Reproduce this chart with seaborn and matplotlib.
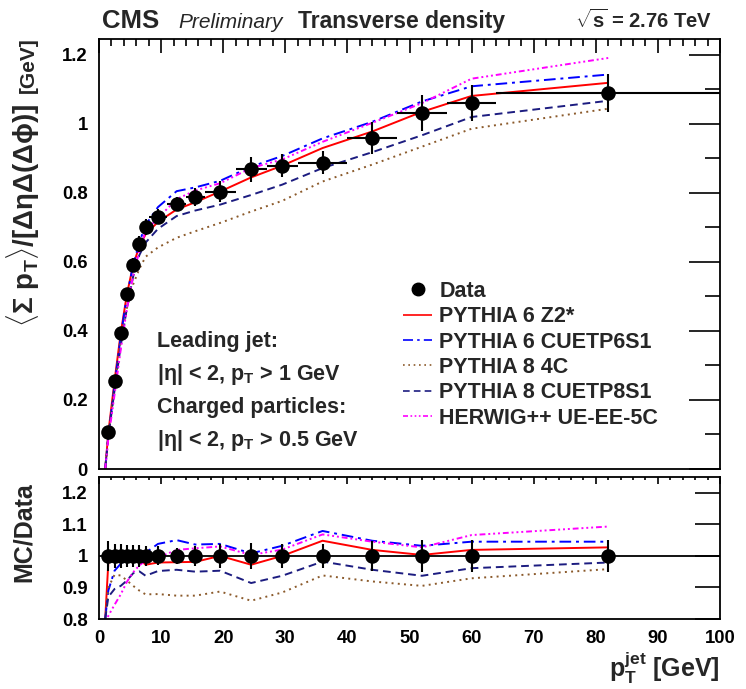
"""Transverse density vs leading jet pT at sqrt(s) = 2.76 TeV, data vs MC tunes.
"""

import numpy as np
import seaborn as sns
import matplotlib.pyplot as plt
from matplotlib.lines import Line2D
from matplotlib.ticker import MultipleLocator

# Data points (bin centers, bin edges, values, errors)
pt_jet = [1.5, 2.5, 3.5, 4.5, 5.5, 6.5, 7.5, 9.5, 12.5, 15.5, 19.5, 24.5, 29.5, 36, 44, 52, 60, 82]
pt_lo = [1, 2, 3, 4, 5, 6, 7, 8, 11, 14, 17, 22, 27, 32, 40, 48, 56, 64]
pt_hi = [2, 3, 4, 5, 6, 7, 8, 11, 14, 17, 22, 27, 32, 40, 48, 56, 64, 100]
density = [0.107, 0.255, 0.394, 0.507, 0.591, 0.652, 0.700, 0.731, 0.767, 0.788, 0.804,
           0.869, 0.879, 0.888, 0.960, 1.032, 1.061, 1.090]
density_err = [0.005, 0.010, 0.015, 0.018, 0.020, 0.022, 0.023, 0.022, 0.020, 0.025, 0.031,
               0.036, 0.034, 0.034, 0.046, 0.052, 0.053, 0.055]

# MC predictions (main panel)
mc_pt = [1.0, 1.5, 2.5, 3.5, 4.5, 5.5, 6.5, 7.5, 9.5, 12.5, 15.5, 19.5, 24.5, 29.5, 36, 44, 52, 60, 82]
py6_z2star = [0.0, 0.105, 0.255, 0.394, 0.507, 0.591, 0.645, 0.680, 0.716, 0.752, 0.773, 0.804,
              0.845, 0.879, 0.930, 0.978, 1.035, 1.081, 1.119]
py6_cuetp6s1 = [0.0, 0.095, 0.243, 0.384, 0.502, 0.591, 0.657, 0.707, 0.759, 0.805, 0.816, 0.835,
                0.876, 0.907, 0.958, 1.006, 1.065, 1.109, 1.143]
py8_4c = [0.0, 0.096, 0.240, 0.370, 0.467, 0.535, 0.580, 0.615, 0.642, 0.670, 0.689, 0.713,
          0.746, 0.777, 0.833, 0.882, 0.934, 0.986, 1.044]
py8_cuetp8s1 = [0.0, 0.093, 0.228, 0.357, 0.467, 0.558, 0.620, 0.656, 0.696, 0.733, 0.749, 0.766,
                0.794, 0.824, 0.872, 0.918, 0.967, 1.020, 1.067]
herwig_ueee5c = [0.0, 0.087, 0.215, 0.346, 0.465, 0.560, 0.632, 0.690, 0.727, 0.782, 0.807, 0.828,
                 0.872, 0.897, 0.948, 1.003, 1.060, 1.131, 1.191]

# MC / Data (ratio panel)
r_py6_z2star = [0.80, 0.978, 1.0, 1.0, 1.0, 1.0, 0.99, 0.972, 0.979, 0.980, 0.981, 1.0,
                0.972, 1.0, 1.048, 1.019, 1.003, 1.019, 1.027]
r_py6_cuetp6s1 = [0.80, 0.89, 0.953, 0.975, 0.99, 1.0, 1.008, 1.01, 1.038, 1.05, 1.036, 1.038,
                  1.008, 1.032, 1.079, 1.048, 1.032, 1.045, 1.045]
r_py8_4c = [0.80, 0.90, 0.94, 0.938, 0.922, 0.905, 0.89, 0.878, 0.879, 0.874, 0.874, 0.887,
            0.858, 0.884, 0.938, 0.919, 0.905, 0.929, 0.958]
r_py8_cuetp8s1 = [0.80, 0.87, 0.895, 0.905, 0.922, 0.945, 0.951, 0.937, 0.952, 0.956, 0.95, 0.953,
                  0.914, 0.937, 0.982, 0.956, 0.937, 0.961, 0.979]
r_herwig_ueee5c = [0.78, 0.81, 0.845, 0.878, 0.918, 0.948, 0.97, 0.985, 0.995, 1.019, 1.024, 1.03,
                   1.003, 1.02, 1.068, 1.045, 1.027, 1.066, 1.093]

labels = ["PYTHIA 6 Z2*", "PYTHIA 6 CUETP6S1", "PYTHIA 8 4C", "PYTHIA 8 CUETP8S1", "HERWIG++ UE-EE-5C"]
colors = ["#ff0000", "#0000ff", "#8b5a2b", "#1c1c80", "#ff00ff"]
styles = [(0, ()), (0, (6, 2.5, 1.5, 2.5)), (0, (1, 2.2)), (0, (4, 2.5)), (0, (3, 1.5, 1, 1.5, 1, 1.5, 1, 1.5))]

W, H = 746, 689


def fx(px):
    return px / W


def fy(py):
    return 1 - py / H


sns.set_theme(style="white")
plt.rcParams['font.family'] = ['Liberation Sans', 'DejaVu Sans']
plt.rcParams['font.weight'] = 'bold'
plt.rcParams['mathtext.fontset'] = 'custom'
plt.rcParams['mathtext.rm'] = 'Liberation Sans:bold'
plt.rcParams['mathtext.it'] = 'Liberation Sans:italic:bold'
plt.rcParams['mathtext.bf'] = 'Liberation Sans:bold'
plt.rcParams['axes.linewidth'] = 1.3
plt.rcParams['axes.edgecolor'] = 'black'

fig = plt.figure(figsize=(W / 100, H / 100), dpi=100)
ax = fig.add_axes([fx(99), fy(469), fx(720) - fx(99), fy(39) - fy(469)])
rax = fig.add_axes([fx(99), fy(619), fx(720) - fx(99), fy(477) - fy(619)])

pt = np.array(pt_jet)
xerr = [pt - np.array(pt_lo), np.array(pt_hi) - pt]
dens = np.array(density)
derr = np.array(density_err)

main_curves = [py6_z2star, py6_cuetp6s1, py8_4c, py8_cuetp8s1, herwig_ueee5c]
ratio_curves = [r_py6_z2star, r_py6_cuetp6s1, r_py8_4c, r_py8_cuetp8s1, r_herwig_ueee5c]

for yv, rv, c, ls in zip(main_curves, ratio_curves, colors, styles):
    sns.lineplot(x=mc_pt, y=yv, color=c, linestyle=ls, linewidth=1.4, sort=False,
                 estimator=None, ax=ax)
    sns.lineplot(x=mc_pt, y=rv, color=c, linestyle=ls, linewidth=1.4, sort=False,
                 estimator=None, ax=rax)

# data in main panel
ax.errorbar(pt, dens, xerr=xerr, yerr=derr, fmt='none', ecolor='black', elinewidth=1.5,
            capsize=0, zorder=4)
sns.scatterplot(x=pt, y=dens, color='black', s=110, edgecolor='black', linewidth=0,
                zorder=5, ax=ax)

# data in ratio panel
rax.axhline(1.0, color='black', lw=1.3, zorder=3)
ones = dens / dens
rax.errorbar(pt, ones, yerr=derr / dens, fmt='none', ecolor='black', elinewidth=1.5,
             capsize=0, zorder=4)
sns.scatterplot(x=pt, y=ones, color='black', s=110, edgecolor='black', linewidth=0,
                zorder=5, ax=rax)

# axes styling
ax.set_xlim(0, 100)
ax.set_ylim(0, 1.246)
rax.set_xlim(0, 100)
rax.set_ylim(0.8, 1.25)
for a in (ax, rax):
    a.set_xlabel('')
    a.set_ylabel('')
    a.xaxis.set_major_locator(MultipleLocator(10))
    a.xaxis.set_minor_locator(MultipleLocator(2))
    a.tick_params(which='both', direction='in', top=True, right=True, colors='black',
                  labelsize=13.3, width=1.2, pad=8)
    for s in a.spines.values():
        s.set_visible(True)
        s.set_color('black')

ax.yaxis.set_minor_locator(MultipleLocator(0.1))
ax.tick_params(axis='x', which='major', length=10, labelbottom=False)
ax.tick_params(axis='x', which='minor', length=5)
ax.tick_params(axis='y', which='major', length=22)
ax.tick_params(axis='y', which='minor', length=11)
ax.set_yticks([0, 0.2, 0.4, 0.6, 0.8, 1.0, 1.2])
ax.set_yticklabels(['0', '0.2', '0.4', '0.6', '0.8', '1', '1.2'])

rax.set_yticks([0.8, 0.9, 1.0, 1.1, 1.2])
rax.set_yticklabels(['0.8', '0.9', '1', '1.1', '1.2'])
rax.tick_params(axis='x', which='major', length=5)
rax.tick_params(axis='x', which='minor', length=2.5)
rax.tick_params(axis='y', which='major', length=18)
rax.set_xticks(range(0, 101, 10))
rax.set_xticklabels([str(v) for v in range(0, 101, 10)])

for lab in ax.get_yticklabels() + rax.get_yticklabels() + rax.get_xticklabels():
    lab.set_fontweight('bold')

# axis titles (rotated, anchored at the top end of the text)
fig.text(fx(34), fy(37), '[GeV]', rotation=90, rotation_mode='anchor', ha='right',
         va='baseline', fontsize=15, fontweight='bold')
fig.text(fx(34), fy(103),
         r'$\langle\Sigma\ \mathrm{p}_{\mathrm{T}}\rangle/[\Delta\mathrm{\eta}\Delta(\Delta\mathrm{\phi})]$',
         rotation=90, rotation_mode='anchor', ha='right', va='baseline', fontsize=20)
fig.text(fx(24), fy(532), 'MC/Data', rotation=90, ha='center', va='center',
         fontsize=18, fontweight='bold')
fig.text(fx(720), fy(668), r'$\mathrm{p}_{\mathrm{T}}^{\mathrm{jet}}$ [GeV]', ha='right',
         va='center', fontsize=18, fontweight='bold')

# header
fig.text(fx(102), fy(28), 'CMS', ha='left', va='baseline', fontsize=18.5, fontweight='bold')
fig.text(fx(178), fy(28), 'Preliminary', ha='left', va='baseline', fontsize=15,
         fontweight='normal', style='italic')
fig.text(fx(298), fy(28), 'Transverse density', ha='left', va='baseline', fontsize=16.5,
         fontweight='bold')
fig.text(fx(712), fy(28), r'$\sqrt{\mathrm{s}}$ = 2.76 TeV', ha='right', va='baseline',
         fontsize=14.5, fontweight='bold')

# selection text
sel_lines = ['Leading jet:', r'|$\mathrm{\eta}$| < 2, $\mathrm{p}_{\mathrm{T}}$ > 1 GeV',
             'Charged particles:', r'|$\mathrm{\eta}$| < 2, $\mathrm{p}_{\mathrm{T}}$ > 0.5 GeV']
for i, t in enumerate(sel_lines):
    fig.text(fx(157), fy(342 + 32.7 * i), t, ha='left', va='center', fontsize=15.5,
             fontweight='bold')

# legend
handles = [Line2D([], [], marker='o', color='black', ls='none', markersize=9)]
for c, ls in zip(colors, styles):
    handles.append(Line2D([], [], color=c, linestyle=ls, linewidth=1.2))
ax.legend(handles, ['Data'] + labels, loc='upper left', bbox_to_anchor=(fx(403), fy(281)),
          bbox_transform=fig.transFigure, frameon=False, handlelength=1.35,
          handletextpad=0.33, labelspacing=0.2, borderpad=0, borderaxespad=0,
          prop=dict(weight='bold', size=15.5))

fig.savefig('out.png', dpi=100)
